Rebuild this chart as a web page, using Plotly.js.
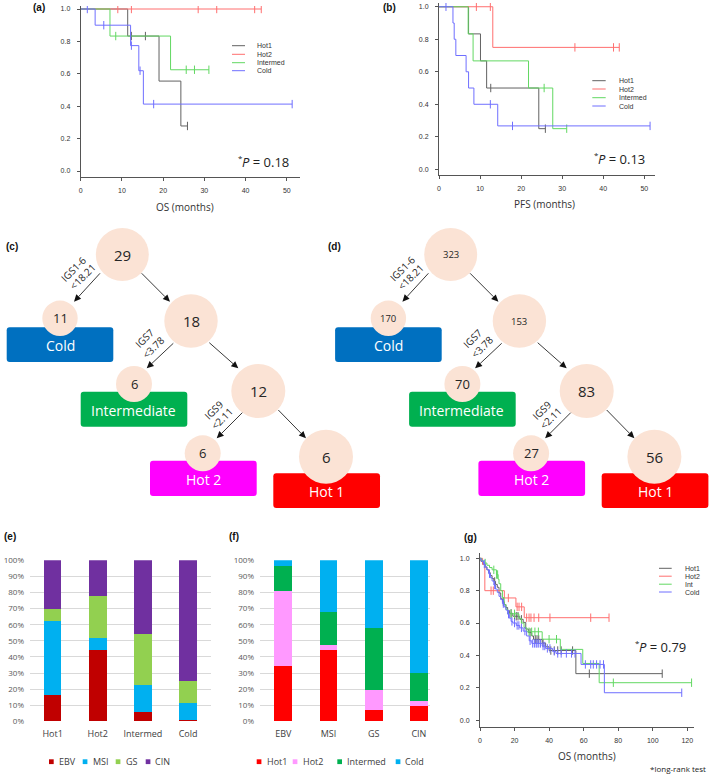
<!DOCTYPE html>
<html><head><meta charset="utf-8">
<script src="https://cdn.plot.ly/plotly-3.0.1.min.js"></script>
<style>html,body{margin:0;padding:0;background:#fff;}#chart{width:709px;height:774px;}</style>
</head><body><div id="chart"></div>
<script>
// ===== DATA =====
// KM groups
const kmGroups = ['Hot1','Hot2','Intermed','Cold'];
const kmGroupsG = ['Hot1','Hot2','Int','Cold'];
// (a) OS, small cohort: event times, survival after event, censor times
const osHot1T=[11.4,19.0,24.3], osHot1S=[0.833,0.555,0.278], osHot1C=[12.3,15.7,25.9];
const osHot2T=[], osHot2S=[], osHot2C=[9.0,12.3,28.5,33.0,42.2,43.8];
const osIntT=[7.1,21.8], osIntS=[0.833,0.625], osIntC=[8.5,25.6,27.6,31.1];
const osColdT=[3.5,12.1,14.1,15.2], osColdS=[0.9,0.774,0.619,0.413], osColdC=[1.6,5.6,12.3,14.4,17.7,51.3];
// (b) PFS
const pfsHot1T=[7.2,10.1,11.6,24.3], pfsHot1S=[0.833,0.667,0.5,0.25], pfsHot1C=[12.6,25.9];
const pfsHot2T=[13.1], pfsHot2S=[0.75], pfsHot2C=[9.1,12.5,33.1,42.5,43.9];
const pfsIntT=[7.1,8.3,21.8,27.7], pfsIntS=[0.833,0.667,0.5,0.25], pfsIntC=[25.6,31.1];
const pfsColdT=[3.4,3.7,4.1,6.6,7.2,8.5,14.3], pfsColdS=[0.9,0.8,0.7,0.6,0.5,0.4,0.267], pfsColdC=[1.7,12.5,17.9,51.4];
// (g) OS, TCGA cohort
const gHot1T=[0.5,1.5,3,4,5,6,7,8,9,10,11,12,13,14,15,16,17,19,23,25,26.5,28,30,31,36,38,40,55.5];
const gHot1S=[0.982,0.964,0.946,0.929,0.911,0.893,0.875,0.857,0.839,0.821,0.786,0.75,0.732,0.714,0.696,0.678,0.66,0.642,0.623,0.604,0.563,0.541,0.52,0.499,0.476,0.453,0.43,0.287];
const gHot1C=[8.5,13.5,18,20,21,22,24,29,32,33,34,36.5,41,43,45,47,53.6,63.3,105.5];
const gHot2T=[1.5,2.8,14.1,20.8,25.6], gHot2S=[0.963,0.80,0.755,0.70,0.633];
const gHot2C=[6.4,7.7,16.4,21.5,22.6,24.1,27.0,28.4,29.5,31.3,34.0,40.5,64.1,74.7];
const gIntT=[1,2,4,5.5,7,9.5,10.5,11,12,13,14,15,16,22.5,24,25.5,27,36,46.5,59.5,69];
const gIntS=[0.986,0.971,0.957,0.943,0.929,0.9,0.871,0.843,0.8,0.757,0.714,0.685,0.657,0.628,0.6,0.571,0.546,0.5,0.437,0.35,0.231];
const gIntC=[3,8,9.6,10.2,18,20,28.4,29.9,31.8,33.8,40,44.3,77.2,122.5];
const gColdT=[0.5,1,2,3,4,5,6,7,8,9,10,11,12,13,14,15,16,17,18,19,21,23,25,27,28.5,30,36,38,42,44,58.5,72];
const gColdS=[0.994,0.982,0.965,0.947,0.93,0.905,0.88,0.86,0.835,0.81,0.79,0.765,0.745,0.72,0.7,0.68,0.655,0.63,0.61,0.6,0.585,0.57,0.55,0.52,0.49,0.474,0.458,0.443,0.425,0.412,0.344,0.169];
const gColdC=[2.5,5.5,8.5,13.5,16.5,18.5,20,21.5,22.5,24,26,29,30.5,31.5,32.5,33,34,35,36.5,37.5,39,40.5,43,45,47,50,53,55,61,64.1,65.6,67.5,69.5,71.5,116.8];
const pA='0.18', pB='0.13', pG='0.79';
// (e) molecular subtype share within each immune group (%)
const eCats=['Hot1','Hot2','Intermed','Cold'];
const eSeries=['EBV','MSI','GS','CIN'];
const eEBV=[16.1,44.4,5.7,0.6], eMSI=[46.4,7.4,17.1,10.6], eGS=[7.1,25.9,31.4,14.1], eCIN=[30.4,22.3,45.8,74.7];
// (f) immune group share within each molecular subtype (%)
const fCats=['EBV','MSI','GS','CIN'];
const fSeries=['Hot1','Hot2','Intermed','Cold'];
const fHot1=[34.6,44.5,7.0,9.3], fHot2=[46.2,3.1,12.3,3.3], fInt=[15.4,20.4,38.6,17.6], fCold=[3.8,32.0,42.1,69.8];
const yTicks=[0,10,20,30,40,50,60,70,80,90,100];
// (c)/(d) decision trees: node counts (root, cold, right1, intermediate, right2, hot2, hot1)
const treeC=[29,11,18,6,12,6,6];
const treeD=[323,170,153,70,83,27,56];
const leafLabels=['Cold','Intermediate','Hot 2','Hot 1'];
const splitVars=['IGS1-6','IGS7','IGS9'];
const splitCuts=['<18.21','<3.78','<2.11'];

// ===== STYLE / LAYOUT =====
const W=709,H=774;
const FU='Open Sans, Noto Sans, sans-serif';
const FR='Liberation Sans, Arial, sans-serif';
const kmCol=['#626262','#ff6f6f','#62d862','#6f6fff'];
const eCol=['#c00000','#00b0f0','#92d050','#7030a0'];
const fCol=['#ff0000','#ff99ff','#00b050','#00b0f0'];

function sAt(T,S,c){let s=1;T.forEach((t,i)=>{if(t<=c)s=S[i];});return s;}
const traces=[];
function addKM(T,S,C,col,xa,ya){
  const end=Math.max(...T,...C);
  const x=[0].concat(T,[end]);
  const y=[1].concat(S,[S.length?S[S.length-1]:1]);
  traces.push({type:'scatter',mode:'lines',x,y,xaxis:xa,yaxis:ya,line:{color:col,width:1,shape:'hv'},hoverinfo:'skip',showlegend:false});
  traces.push({type:'scatter',mode:'markers',x:C,y:C.map(c=>sAt(T,S,c)),xaxis:xa,yaxis:ya,
    marker:{symbol:'line-ns-open',size:6,color:col,line:{color:col,width:1}},hoverinfo:'skip',showlegend:false});
}
const aSets=[[osHot1T,osHot1S,osHot1C],[osHot2T,osHot2S,osHot2C],[osIntT,osIntS,osIntC],[osColdT,osColdS,osColdC]];
const bSets=[[pfsHot1T,pfsHot1S,pfsHot1C],[pfsHot2T,pfsHot2S,pfsHot2C],[pfsIntT,pfsIntS,pfsIntC],[pfsColdT,pfsColdS,pfsColdC]];
const gSets=[[gHot1T,gHot1S,gHot1C],[gHot2T,gHot2S,gHot2C],[gIntT,gIntS,gIntC],[gColdT,gColdS,gColdC]];
aSets.forEach((s,i)=>addKM(s[0],s[1],s[2],kmCol[i],'x','y'));
bSets.forEach((s,i)=>addKM(s[0],s[1],s[2],kmCol[i],'x2','y2'));
gSets.forEach((s,i)=>addKM(s[0],s[1],s[2],kmCol[i],'x3','y3'));

[eEBV,eMSI,eGS,eCIN].forEach((v,i)=>traces.push({type:'bar',x:eCats,y:v,name:eSeries[i],xaxis:'x4',yaxis:'y4',width:0.39,marker:{color:eCol[i],line:{width:0}},hoverinfo:'skip',showlegend:false}));
[fHot1,fHot2,fInt,fCold].forEach((v,i)=>traces.push({type:'bar',x:fCats,y:v,name:fSeries[i],xaxis:'x5',yaxis:'y5',width:0.39,marker:{color:fCol[i],line:{width:0}},hoverinfo:'skip',showlegend:false}));
traces.push({type:'scatter',x:[0],y:[0],xaxis:'x6',yaxis:'y6',mode:'markers',marker:{opacity:0},hoverinfo:'skip',showlegend:false});

function xd(a,b){return [a/W,b/W];}
function yd(top,bot){return [1-bot/H,1-top/H];}
function kmX(d,range,dtick,anchor){return {domain:d,range,anchor,showline:true,linecolor:'#555',linewidth:1,ticks:'outside',ticklen:3,tickwidth:1,tickcolor:'#555',dtick,tick0:0,showgrid:false,zeroline:false,tickfont:{family:FR,size:7,color:'#333'},ticklabelstandoff:4,fixedrange:true};}
function kmY(d,range,anchor){return {domain:d,range,anchor,showline:true,linecolor:'#555',linewidth:1,ticks:'outside',ticklen:3,tickwidth:1,tickcolor:'#555',dtick:0.2,tick0:0,tickformat:'.1f',showgrid:false,zeroline:false,tickfont:{family:FR,size:7,color:'#333'},ticklabelstandoff:5,fixedrange:true};}
function barX(d,range,anchor){return {domain:d,range,anchor,type:'category',showline:false,ticks:'',showgrid:false,zeroline:false,tickfont:{family:FU,size:9,color:'#404040'},ticklabelstandoff:6,fixedrange:true};}
function barY(d,anchor){return {domain:d,range:[0,100],anchor,tickvals:yTicks,ticktext:yTicks.map(v=>v+'%'),showline:false,ticks:'',gridcolor:'#d9d9d9',gridwidth:1,zeroline:false,tickfont:{family:FU,size:8,color:'#595959'},ticklabelstandoff:5,fixedrange:true};}

const shapes=[], ann=[];
function txt(x,y,text,size,opts){ann.push(Object.assign({xref:'x6',yref:'y6',x,y,text,showarrow:false,font:{family:FU,size,color:'#262626'},xanchor:'center',yanchor:'middle'},opts||{}));}
function line(x0,y0,x1,y1,col,w){shapes.push({type:'line',xref:'x6',yref:'y6',x0,y0,x1,y1,line:{color:col,width:w||1}});}
function rect(x0,y0,x1,y1,col){shapes.push({type:'rect',xref:'x6',yref:'y6',x0,y0,x1,y1,fillcolor:col,line:{width:0}});}
function rrect(x0,y0,x1,y1,r,col){
  const p=`M${x0+r},${y0} L${x1-r},${y0} Q${x1},${y0} ${x1},${y0+r} L${x1},${y1-r} Q${x1},${y1} ${x1-r},${y1} L${x0+r},${y1} Q${x0},${y1} ${x0},${y1-r} L${x0},${y0+r} Q${x0},${y0} ${x0+r},${y0} Z`;
  shapes.push({type:'path',xref:'x6',yref:'y6',path:p,fillcolor:col,line:{width:0}});
}
function circ(cx,cy,r,col){shapes.push({type:'circle',xref:'x6',yref:'y6',x0:cx-r,x1:cx+r,y0:cy-r,y1:cy+r,fillcolor:col,line:{width:0}});}
function arrow(tx,ty,hx,hy){
  const dx=hx-tx, dy=hy-ty, L=Math.hypot(dx,dy), ux=dx/L, uy=dy/L, hl=7, hw=3.3;
  const bx=hx-ux*hl, by=hy-uy*hl;
  line(tx,ty,bx,by,'#222',0.9);
  shapes.push({type:'path',xref:'x6',yref:'y6',path:`M${hx},${hy} L${bx-uy*hw},${by+ux*hw} L${bx+uy*hw},${by-ux*hw} Z`,fillcolor:'#111',line:{width:0}});
}
function esc(s){return s.replace(/</g,'&lt;');}

// panel labels
[['(a)',39,7.5],['(b)',389,7],['(c)',12,246.7],['(d)',334,246.7],['(e)',10,536],['(f)',234,536],['(g)',470,537.5]].forEach(l=>txt(l[1],l[2],'<b>'+l[0]+'</b>',10,{font:{family:FR,size:10,color:'#111'}}));

// KM axis titles, p-values, legends
txt(185,206.7,'OS (months)',10,{font:{family:FU,size:10,color:'#333'}});
txt(544.3,204,'PFS (months)',10,{font:{family:FU,size:10,color:'#333'}});
txt(586.7,756,'OS (months)',10,{font:{family:FU,size:10,color:'#333'}});
function pval(x,y,p){
  txt(x+2.5,y-4.5,'*',8,{xanchor:'right',font:{family:FU,size:8,color:'#222'}});
  txt(x-2.5,y,'<i>P</i> = '+p,13,{xanchor:'left',font:{family:FU,size:13,color:'#222'}});
}
pval(242.2,162.3,pA);
pval(598.8,159.3,pB);
pval(639.8,647.3,pG);
txt(708,768,'*long-rank test',8,{xanchor:'right',font:{family:FU,size:8,color:'#222'}});
function kmLegend(lx0,lx1,tx,rows,names){names.forEach((n,i)=>{line(lx0,rows[i],lx1,rows[i],kmCol[i],1);txt(tx,rows[i],n,7,{xanchor:'left',font:{family:FR,size:7,color:'#333'}});});}
kmLegend(232,245,255,[45.7,54.3,62.7,70.7],kmGroups);
kmLegend(592.3,605.7,616.7,[80.7,89,97.7,106],kmGroups);
kmLegend(659,671.7,682.7,[568.3,576.2,584.2,592],kmGroupsG);

// bar legends
function barLegend(items,cols,sq,tx,y){items.forEach((n,i)=>{rect(sq[i],y-2.4,sq[i]+4.7,y+2.4,cols[i]);txt(tx[i],y,n,9,{xanchor:'left',font:{family:FU,size:9,color:'#404040'}});});}
barLegend(eSeries,eCol,[49,82.7,115.7,145.7],[56.5,90.5,123.5,153.3],761.7);
barLegend(fSeries,fCol,[256.7,292.7,337.3,395.7],[264.5,300.5,345,403.3],761.7);

// trees
const nodeOff=[[0,0,26.5],[-62.3,63.8,17.7],[68.7,66.5,26.7],[11.7,129.5,18],[136,136.5,27],[80.4,198.8,18],[203.7,202.2,27]];
const boxOff=[[-115.6,72.8,-9,107.5],[-41.6,137.2,65,172.2],[27.7,206.2,134.4,241.5],[151,218.8,257.7,253.5]];
const boxCol=['#0070c0','#00b050','#ff00ff','#ff0000'];
const boxTxt=[[-62.3,90.5],[11,155.5],[81,224.8],[204.4,237.2]];
const arrOff=[[-22.3,18.8,-48.3,47.2],[19.4,18.8,47.7,47.2],[51,88.8,24.4,113.8],[87,88.2,116,113.8],[120,158.2,94.4,183.8],[156,155.5,183.7,183.8]];
const splitOff=[[-45,18.2],[26.4,88],[95.4,159.5]];
function tree(rx,ry,counts){
  boxOff.forEach((b,i)=>rrect(rx+b[0],ry+b[1],rx+b[2],ry+b[3],3,boxCol[i]));
  nodeOff.forEach(n=>circ(rx+n[0],ry+n[1],n[2],'#fbe3d5'));
  boxTxt.forEach((t,i)=>txt(rx+t[0],ry+t[1],leafLabels[i],14,{font:{family:FU,size:14,color:'#ffffff'}}));
  counts.forEach((c,i)=>{const n=nodeOff[i];const big=n[2]>20;const sz=String(c).length>2?9.5:(big?15:13);txt(rx+n[0],ry+n[1],String(c),sz,{font:{family:FU,size:sz,color:'#262626'}});});
  arrOff.forEach(a=>arrow(rx+a[0],ry+a[1],rx+a[2],ry+a[3]));
  const k=0.7071, d=5.8;
  splitOff.forEach((s,i)=>{
    txt(rx+s[0]-k*d,ry+s[1]-k*d,splitVars[i],10,{textangle:-45,font:{family:FU,size:10,color:'#262626'}});
    txt(rx+s[0]+k*d+0.6,ry+s[1]+k*d,esc(splitCuts[i]),10,{textangle:-45,font:{family:FU,size:10,color:'#262626'}});
  });
}
tree(122.3,254.5,treeC);
tree(450.7,254.5,treeD);

const layout={
  width:W,height:H,margin:{l:0,r:0,t:0,b:0},paper_bgcolor:'#ffffff',plot_bgcolor:'rgba(0,0,0,0)',
  showlegend:false,barmode:'stack',
  xaxis:kmX(xd(80.7,300),[0,53.2],10,'y'),
  yaxis:kmY(yd(6,177),[-0.037,1.0185],'x'),
  xaxis2:kmX(xd(439,655),[0,52.6],10,'y2'),
  yaxis2:kmY(yd(3,175),[-0.035,1.023],'x2'),
  xaxis3:kmX(xd(480,694),[0,123.9],20,'y3'),
  yaxis3:kmY(yd(553,726.7),[-0.041,1.033],'x3'),
  xaxis4:barX(xd(30,210.7),[-0.5,3.5],'y4'),
  yaxis4:barY(yd(560.3,721.3),'x4'),
  xaxis5:barX(xd(260,430),[-0.515,3.245],'y5'),
  yaxis5:barY(yd(560.3,721.3),'x5'),
  xaxis6:{domain:[0,1],range:[0,W],visible:false,fixedrange:true,anchor:'y6'},
  yaxis6:{domain:[0,1],range:[H,0],visible:false,fixedrange:true,anchor:'x6'},
  shapes,annotations:ann
};
Plotly.newPlot('chart',traces,layout,{staticPlot:true,displayModeBar:false});
</script></body></html>
